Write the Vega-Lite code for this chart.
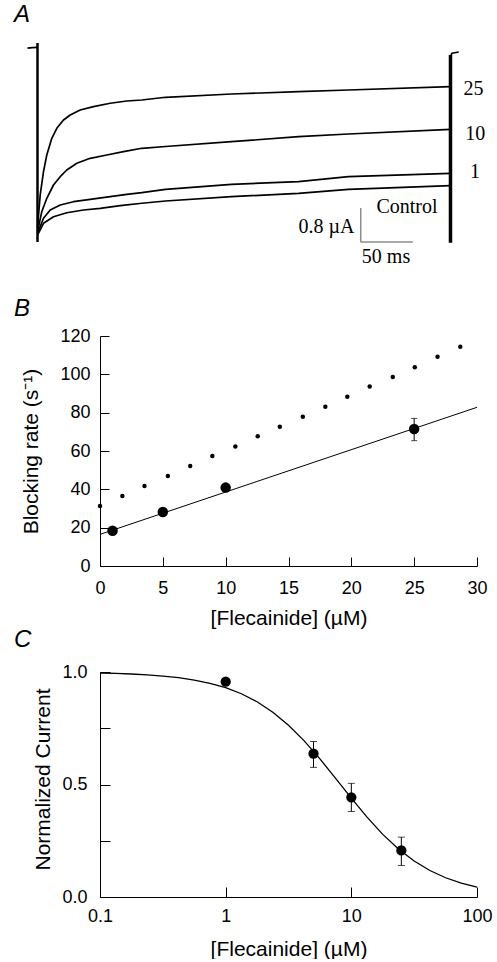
{
  "$schema": "https://vega.github.io/schema/vega-lite/v6.json",
  "padding": {"left": 14, "top": 2, "right": 0, "bottom": 0},
  "background": "white",
  "spacing": 0,
  "config": {
    "view": {"stroke": null},
    "font": "Liberation Sans",
    "title": {"anchor": "start", "frame": "group", "fontSize": 24, "fontStyle": "italic", "fontWeight": "normal", "font": "Liberation Sans", "color": "black"},
    "axis": {"domainColor": "black", "tickColor": "black", "labelColor": "black", "titleColor": "black", "labelFont": "Liberation Sans", "titleFont": "Liberation Sans", "labelFontSize": 18, "titleFontSize": 21, "titleFontWeight": "normal", "grid": false, "domainWidth": 1, "tickWidth": 1, "labelFlush": false, "labelOverlap": false}
  },
  "datasets": {
    "traces": [
      {"trace": "25", "t": 0, "I": 0.33}, {"trace": "25", "t": 2.6, "I": 1.106}, {"trace": "25", "t": 5.77, "I": 1.654}, {"trace": "25", "t": 8.94, "I": 2.047}, {"trace": "25", "t": 13.75, "I": 2.44}, {"trace": "25", "t": 18.56, "I": 2.675}, {"trace": "25", "t": 25, "I": 2.871}, {"trace": "25", "t": 31.44, "I": 2.988}, {"trace": "25", "t": 41.06, "I": 3.106}, {"trace": "25", "t": 53.85, "I": 3.184}, {"trace": "25", "t": 69.9, "I": 3.264}, {"trace": "25", "t": 85.9, "I": 3.318}, {"trace": "25", "t": 100.3, "I": 3.341}, {"trace": "25", "t": 123.1, "I": 3.405}, {"trace": "25", "t": 186.5, "I": 3.482}, {"trace": "25", "t": 251, "I": 3.536}, {"trace": "25", "t": 299, "I": 3.576}, {"trace": "25", "t": 397.1, "I": 3.654},
      {"trace": "10", "t": 0, "I": 0.242}, {"trace": "10", "t": 4.13, "I": 0.713}, {"trace": "10", "t": 8.94, "I": 1.028}, {"trace": "10", "t": 15.38, "I": 1.341}, {"trace": "10", "t": 21.83, "I": 1.536}, {"trace": "10", "t": 28.17, "I": 1.694}, {"trace": "10", "t": 37.79, "I": 1.852}, {"trace": "10", "t": 50.67, "I": 1.969}, {"trace": "10", "t": 66.63, "I": 2.047}, {"trace": "10", "t": 82.69, "I": 2.125}, {"trace": "10", "t": 100.3, "I": 2.205}, {"trace": "10", "t": 123.1, "I": 2.247}, {"trace": "10", "t": 186.5, "I": 2.36}, {"trace": "10", "t": 251, "I": 2.478}, {"trace": "10", "t": 299, "I": 2.541}, {"trace": "10", "t": 397.1, "I": 2.652},
      {"trace": "1", "t": 0, "I": 0.205}, {"trace": "1", "t": 5.77, "I": 0.558}, {"trace": "1", "t": 12.21, "I": 0.753}, {"trace": "1", "t": 21.83, "I": 0.871}, {"trace": "1", "t": 34.62, "I": 0.948}, {"trace": "1", "t": 50.67, "I": 1.005}, {"trace": "1", "t": 69.9, "I": 1.066}, {"trace": "1", "t": 85.87, "I": 1.122}, {"trace": "1", "t": 100.3, "I": 1.16}, {"trace": "1", "t": 123.1, "I": 1.24}, {"trace": "1", "t": 186.5, "I": 1.358}, {"trace": "1", "t": 251, "I": 1.419}, {"trace": "1", "t": 299, "I": 1.536}, {"trace": "1", "t": 397.1, "I": 1.616},
      {"trace": "Control", "t": 0, "I": 0.165}, {"trace": "Control", "t": 5.77, "I": 0.44}, {"trace": "Control", "t": 15.38, "I": 0.595}, {"trace": "Control", "t": 28.17, "I": 0.689}, {"trace": "Control", "t": 44.23, "I": 0.753}, {"trace": "Control", "t": 60.29, "I": 0.793}, {"trace": "Control", "t": 79.52, "I": 0.854}, {"trace": "Control", "t": 100.3, "I": 0.911}, {"trace": "Control", "t": 123.1, "I": 0.965}, {"trace": "Control", "t": 186.5, "I": 1.066}, {"trace": "Control", "t": 251, "I": 1.146}, {"trace": "Control", "t": 299, "I": 1.24}, {"trace": "Control", "t": 397.1, "I": 1.325},
      {"trace": "pre", "t": -9.6, "I": 4.56}, {"trace": "pre", "t": -5, "I": 4.575}, {"trace": "pre", "t": 0, "I": 4.58},
      {"trace": "post", "t": 397.1, "I": 4.36}, {"trace": "post", "t": 398.5, "I": 4.44}, {"trace": "post", "t": 405, "I": 4.47}
    ],
    "bars": [
      {"side": "on", "t": 0, "I": 0, "I2": 4.682},
      {"side": "off", "t": 397.1, "I": -0.02, "I2": 4.4}
    ],
    "scalebar": [
      {"t": 310.9, "t2": 310.9, "I": 0, "I2": 0.8},
      {"t": 310.9, "t2": 360.9, "I": 0, "I2": 0}
    ],
    "alabels": [
      {"label": "25", "t": 419.2, "I": 3.46},
      {"label": "10", "t": 421, "I": 2.4},
      {"label": "1", "t": 420.7, "I": 1.506},
      {"label": "Control", "t": 355.3, "I": 0.682},
      {"label": "50 ms", "t": 335.1, "I": -0.494}
    ],
    "alabelsRight": [
      {"label": "0.8 µA", "t": 304.8, "I": 0.212}
    ],
    "model": [
      {"x": 0, "y": 31.3}, {"x": 1.78, "y": 36.5}, {"x": 3.54, "y": 41.7}, {"x": 5.4, "y": 47}, {"x": 7.18, "y": 52.2}, {"x": 8.94, "y": 57.4}, {"x": 10.77, "y": 62.4}, {"x": 12.55, "y": 67.7}, {"x": 14.31, "y": 72.7}, {"x": 16.14, "y": 77.9}, {"x": 17.93, "y": 83.1}, {"x": 19.68, "y": 88.3}, {"x": 21.46, "y": 93.6}, {"x": 23.3, "y": 98.6}, {"x": 25.05, "y": 103.7}, {"x": 26.86, "y": 109.2}, {"x": 28.67, "y": 114.4}
    ],
    "rates": [
      {"x": 1, "y": 18.4, "lo": 18.4, "hi": 18.4},
      {"x": 5, "y": 28.2, "lo": 28.2, "hi": 28.2},
      {"x": 10, "y": 40.9, "lo": 40.9, "hi": 40.9},
      {"x": 25, "y": 71.5, "lo": 65.4, "hi": 77.0}
    ],
    "ratefit": [
      {"x": 0, "y": 16.5}, {"x": 30, "y": 82.8}
    ],
    "current": [
      {"x": 1, "y": 0.957, "lo": 0.957, "hi": 0.957},
      {"x": 5, "y": 0.637, "lo": 0.576, "hi": 0.691},
      {"x": 10, "y": 0.443, "lo": 0.38, "hi": 0.505},
      {"x": 25, "y": 0.207, "lo": 0.14, "hi": 0.266}
    ],
    "hill": [
      {"x": 0.1, "y": 0.9956}, {"x": 0.1334, "y": 0.9937}, {"x": 0.1778, "y": 0.9911}, {"x": 0.2371, "y": 0.9874}, {"x": 0.3162, "y": 0.9821}, {"x": 0.4217, "y": 0.9747}, {"x": 0.5623, "y": 0.9643}, {"x": 0.7499, "y": 0.9499}, {"x": 1, "y": 0.9301}, {"x": 1.3335, "y": 0.9033}, {"x": 1.7783, "y": 0.8676}, {"x": 2.3714, "y": 0.8214}, {"x": 3.1623, "y": 0.7635}, {"x": 4.217, "y": 0.6938}, {"x": 5.6234, "y": 0.6139}, {"x": 7.4989, "y": 0.5274}, {"x": 10, "y": 0.4392}, {"x": 13.335, "y": 0.3547}, {"x": 17.783, "y": 0.2784}, {"x": 23.714, "y": 0.2131}, {"x": 31.623, "y": 0.1597}, {"x": 42.17, "y": 0.1177}, {"x": 56.234, "y": 0.0856}, {"x": 74.989, "y": 0.0617}, {"x": 100, "y": 0.0441}
    ]
  },
  "vconcat": [
    {
      "title": {"text": "A", "dx": -86, "offset": 15},
      "width": 377,
      "height": 254,
      "encoding": {
        "x": {"field": "t", "type": "quantitative", "scale": {"domain": [60.1, 422.6]}, "axis": null},
        "y": {"field": "I", "type": "quantitative", "scale": {"domain": [-1.294, 4.682]}, "axis": null}
      },
      "layer": [
        {"data": {"name": "traces"}, "mark": {"type": "line", "color": "black", "strokeWidth": 1.7, "strokeJoin": "round"}, "encoding": {"detail": {"field": "trace"}}},
        {"data": {"name": "bars"}, "transform": [{"filter": "datum.side == 'on'"}], "mark": {"type": "rule", "color": "black", "strokeWidth": 2.5}, "encoding": {"y2": {"field": "I2"}}},
        {"data": {"name": "bars"}, "transform": [{"filter": "datum.side == 'off'"}], "mark": {"type": "rule", "color": "black", "strokeWidth": 3.5}, "encoding": {"y2": {"field": "I2"}}},
        {"data": {"name": "scalebar"}, "mark": {"type": "rule", "color": "#555555", "strokeWidth": 1}, "encoding": {"x2": {"field": "t2"}, "y2": {"field": "I2"}}},
        {"data": {"name": "alabels"}, "mark": {"type": "text", "font": "Liberation Serif", "fontSize": 20, "align": "center", "baseline": "alphabetic", "color": "black"}, "encoding": {"text": {"field": "label"}}},
        {"data": {"name": "alabelsRight"}, "mark": {"type": "text", "font": "Liberation Serif", "fontSize": 20, "align": "right", "baseline": "alphabetic", "color": "black"}, "encoding": {"text": {"field": "label"}}}
      ]
    },
    {
      "title": {"text": "B", "dx": -86, "offset": 6},
      "width": 377,
      "height": 230,
      "layer": [
        {"data": {"name": "model"}, "mark": {"type": "point", "filled": true, "color": "black", "size": 20, "opacity": 1},
         "encoding": {
          "x": {"field": "x", "type": "quantitative", "scale": {"domain": [0, 30], "nice": false}, "axis": {"values": [0, 5, 10, 15, 20, 25, 30], "tickSize": -9, "labelPadding": 22, "labelOverlap": false, "title": "[Flecainide] (µM)", "titlePadding": 10}},
          "y": {"field": "y", "type": "quantitative", "scale": {"domain": [0, 120], "nice": false}, "axis": {"values": [0, 20, 40, 60, 80, 100, 120], "tickSize": -9, "labelPadding": 19, "labelOverlap": false, "title": "Blocking rate (s⁻¹)", "titlePadding": 18}}
        }},
        {"data": {"name": "ratefit"}, "mark": {"type": "line", "color": "black", "strokeWidth": 1},
         "encoding": {
          "x": {"field": "x", "type": "quantitative", "axis": {"values": [0, 5, 10, 15, 20, 25, 30], "tickSize": -9, "labelPadding": 22, "labelOverlap": false, "title": "[Flecainide] (µM)", "titlePadding": 10}},
          "y": {"field": "y", "type": "quantitative", "axis": {"values": [0, 20, 40, 60, 80, 100, 120], "tickSize": -9, "labelPadding": 19, "labelOverlap": false, "title": "Blocking rate (s⁻¹)", "titlePadding": 18}}
        }},
        {"data": {"name": "rates"}, "mark": {"type": "errorbar", "ticks": {"size": 6}, "color": "black", "thickness": 1},
         "encoding": {
          "x": {"field": "x", "type": "quantitative", "axis": {"values": [0, 5, 10, 15, 20, 25, 30], "tickSize": -9, "labelPadding": 22, "labelOverlap": false, "title": "[Flecainide] (µM)", "titlePadding": 10}},
          "y": {"field": "lo", "type": "quantitative", "axis": {"values": [0, 20, 40, 60, 80, 100, 120], "tickSize": -9, "labelPadding": 19, "labelOverlap": false, "title": "Blocking rate (s⁻¹)", "titlePadding": 18}},
          "y2": {"field": "hi"}
        }},
        {"data": {"name": "rates"}, "mark": {"type": "point", "filled": true, "color": "black", "size": 110, "opacity": 1},
         "encoding": {
          "x": {"field": "x", "type": "quantitative", "axis": {"values": [0, 5, 10, 15, 20, 25, 30], "tickSize": -9, "labelPadding": 22, "labelOverlap": false, "title": "[Flecainide] (µM)", "titlePadding": 10}},
          "y": {"field": "y", "type": "quantitative", "axis": {"values": [0, 20, 40, 60, 80, 100, 120], "tickSize": -9, "labelPadding": 19, "labelOverlap": false, "title": "Blocking rate (s⁻¹)", "titlePadding": 18}}
        }}
      ]
    },
    {
      "title": {"text": "C", "dx": -86, "offset": 11},
      "width": 377,
      "height": 225,
      "layer": [
        {"data": {"name": "hill"}, "mark": {"type": "line", "color": "black", "strokeWidth": 1.3},
         "encoding": {
          "x": {"field": "x", "type": "quantitative", "scale": {"type": "log", "domain": [0.1, 100], "nice": false}, "axis": {"values": [0.1, 1, 10, 100], "format": "~g", "tickSize": -10, "labelPadding": 20, "labelOverlap": false, "title": "[Flecainide] (µM)", "titlePadding": 13}},
          "y": {"field": "y", "type": "quantitative", "scale": {"domain": [0, 1], "nice": false}, "axis": {"values": [0, 0.25, 0.5, 0.75, 1], "labelExpr": "datum.value == 0.25 || datum.value == 0.75 ? '' : format(datum.value, '.1f')", "tickSize": -10, "labelPadding": 23, "labelOverlap": false, "title": "Normalized Current", "titlePadding": 8, "titleY": 107}}
        }},
        {"data": {"name": "current"}, "mark": {"type": "errorbar", "ticks": {"size": 7}, "color": "black", "thickness": 1},
         "encoding": {
          "x": {"field": "x", "type": "quantitative", "axis": {"values": [0.1, 1, 10, 100], "format": "~g", "tickSize": -10, "labelPadding": 20, "labelOverlap": false, "title": "[Flecainide] (µM)", "titlePadding": 13}},
          "y": {"field": "lo", "type": "quantitative", "axis": {"values": [0, 0.25, 0.5, 0.75, 1], "labelExpr": "datum.value == 0.25 || datum.value == 0.75 ? '' : format(datum.value, '.1f')", "tickSize": -10, "labelPadding": 23, "labelOverlap": false, "title": "Normalized Current", "titlePadding": 8, "titleY": 107}},
          "y2": {"field": "hi"}
        }},
        {"data": {"name": "current"}, "mark": {"type": "point", "filled": true, "color": "black", "size": 105, "opacity": 1},
         "encoding": {
          "x": {"field": "x", "type": "quantitative", "axis": {"values": [0.1, 1, 10, 100], "format": "~g", "tickSize": -10, "labelPadding": 20, "labelOverlap": false, "title": "[Flecainide] (µM)", "titlePadding": 13}},
          "y": {"field": "y", "type": "quantitative", "axis": {"values": [0, 0.25, 0.5, 0.75, 1], "labelExpr": "datum.value == 0.25 || datum.value == 0.75 ? '' : format(datum.value, '.1f')", "tickSize": -10, "labelPadding": 23, "labelOverlap": false, "title": "Normalized Current", "titlePadding": 8, "titleY": 107}}
        }}
      ]
    }
  ]
}
